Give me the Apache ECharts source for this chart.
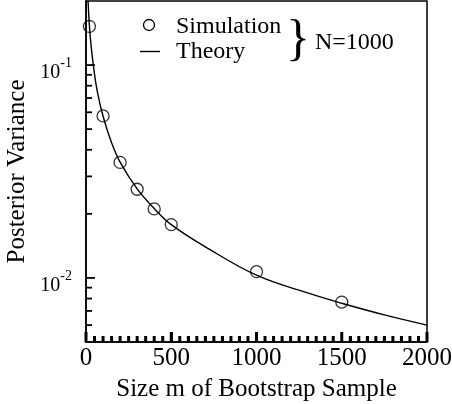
<!DOCTYPE html>
<html>
<head>
<meta charset="utf-8">
<script src="https://cdn.jsdelivr.net/npm/echarts@6/dist/echarts.min.js"></script>
<style>
html,body{margin:0;padding:0;background:#fff;}
#chart{width:452px;height:404px;}
</style>
</head>
<body>
<div id="chart"></div>
<script>
// Simulation points (N=1000)
const simM = [20, 100, 200, 300, 400, 500, 1000, 1500];
const simVar = [0.152, 0.0577, 0.0349, 0.0261, 0.0211, 0.0178, 0.0107, 0.0077];
// Theory curve
const theoryM = [12, 20, 30, 45, 65, 100, 150, 200, 300, 400, 500, 700, 1000, 1300, 1500, 1750, 2000];
const theoryVar = [0.200, 0.153, 0.123, 0.097, 0.076, 0.0575, 0.0432, 0.0350, 0.0262, 0.0212, 0.0178, 0.0140, 0.0103, 0.0085, 0.0076, 0.0067, 0.0060];
// Axis ticks
const xTickValues = [0, 500, 1000, 1500, 2000];
const xTickLabels = ['0', '500', '1000', '1500', '2000'];
const xMinorStep = 50;
const yMajorValues = [0.01, 0.1];
const yMajorExponents = ['-2', '-1'];
const yMinorTicks = [0.006, 0.007, 0.008, 0.009, 0.02, 0.03, 0.04, 0.05, 0.06, 0.07, 0.08, 0.09];
const legendNames = ['Simulation', 'Theory'];
const noteText = 'N=1000';

const xMinorTicks = [];
for (let v = xMinorStep; v < 2000; v += xMinorStep) {
  if (v % 500 !== 0) xMinorTicks.push(v);
}

const FONT = "'Liberation Serif','Times New Roman',serif";
const chart = echarts.init(document.getElementById('chart'), null, {renderer: 'canvas'});

function tickSeries(name, values, isX, len) {
  return {
    name: name, type: 'custom', silent: true, clip: false, z: 10,
    data: values.map(v => isX ? [v, 0.01] : [0, v]),
    renderItem: function (params, api) {
      const cs = params.coordSys;
      let shape;
      if (isX) {
        const p = api.coord([api.value(0), 0.01]);
        const yb = cs.y + cs.height;
        shape = {x1: p[0], y1: yb, x2: p[0], y2: yb - len};
      } else {
        const p = api.coord([0, api.value(1)]);
        shape = {x1: cs.x, y1: p[1], x2: cs.x + len, y2: p[1]};
      }
      return {type: 'line', shape: shape, style: {stroke: '#000', lineWidth: isX ? 3 : 1.8}};
    }
  };
}

const option = {
  animation: false,
  backgroundColor: '#fff',
  grid: {left: 86, right: 25, top: 1, bottom: 62, containLabel: false, outerBoundsMode: 'none',
    show: true, borderColor: '#000', borderWidth: 1.5, backgroundColor: 'transparent'},
  legend: {show: false, data: legendNames},
  xAxis: {
    type: 'value', min: 0, max: 2000, interval: 500,
    name: 'Size m of Bootstrap Sample', nameLocation: 'middle', nameGap: 35,
    nameTextStyle: {fontFamily: FONT, fontSize: 25, color: '#000'},
    axisLine: {show: true, lineStyle: {color: '#000', width: 1.5}},
    axisTick: {show: true, inside: true, length: 10, lineStyle: {color: '#000', width: 2}},
    minorTick: {show: true, splitNumber: 10, length: 6, lineStyle: {color: '#000', width: 2}},
    axisLabel: {margin: 4, fontFamily: FONT, fontSize: 25, color: '#000',
      formatter: function (v) {
        const i = xTickValues.indexOf(v);
        return i >= 0 ? xTickLabels[i] : '';
      }},
    splitLine: {show: false}
  },
  yAxis: {
    type: 'log', logBase: 10, min: 0.005, max: 0.2,
    name: 'Posterior Variance', nameLocation: 'middle', nameGap: 28,
    nameTextStyle: {fontFamily: FONT, fontSize: 25, color: '#000'},
    axisLine: {show: true, lineStyle: {color: '#000', width: 1.5}},
    axisTick: {show: false},
    axisLabel: {
      margin: 14, showMinLabel: false, showMaxLabel: false,
      padding: [9, 0, 0, 0],
      formatter: function (v) {
        for (let i = 0; i < yMajorValues.length; i++) {
          if (Math.abs(v - yMajorValues[i]) / yMajorValues[i] < 1e-6) {
            return '{b|10}{s|' + yMajorExponents[i] + '}';
          }
        }
        return '';
      },
      rich: {
        b: {fontFamily: FONT, fontSize: 20, lineHeight: 27, verticalAlign: 'bottom', color: '#000'},
        s: {fontFamily: FONT, fontSize: 14, lineHeight: 27, verticalAlign: 'top', color: '#000'}
      }
    },
    splitLine: {show: false}
  },
  graphic: [
    {type: 'circle', shape: {cx: 149, cy: 25, r: 5.5},
      style: {fill: 'none', stroke: '#000', lineWidth: 1.3}},
    {type: 'text', x: 176, y: 27,
      style: {text: legendNames[0], fill: '#000', font: '24px ' + FONT, textAlign: 'left', textVerticalAlign: 'middle', align: 'left', verticalAlign: 'middle'}},
    {type: 'line', shape: {x1: 140, y1: 51.5, x2: 160, y2: 51.5},
      style: {stroke: '#000', lineWidth: 1.4}},
    {type: 'text', x: 176, y: 52,
      style: {text: legendNames[1], fill: '#000', font: '24px ' + FONT, textAlign: 'left', textVerticalAlign: 'middle', align: 'left', verticalAlign: 'middle'}},
    {type: 'text', x: 298, y: 41,
      style: {text: '}', fill: '#000', font: '50px ' + FONT, textAlign: 'center', textVerticalAlign: 'middle', align: 'center', verticalAlign: 'middle'}},
    {type: 'text', x: 315, y: 43,
      style: {text: noteText, fill: '#000', font: '24px ' + FONT, textAlign: 'left', textVerticalAlign: 'middle', align: 'left', verticalAlign: 'middle'}}
  ],
  series: [
    {
      name: 'Simulation', type: 'scatter',
      data: simM.map((m, i) => [m, simVar[i]]),
      symbol: 'circle', symbolSize: 12,
      itemStyle: {color: 'rgba(0,0,0,0)', borderColor: '#000', borderWidth: 1.3},
      z: 3
    },
    {
      name: 'Theory', type: 'line',
      data: theoryM.map((m, i) => [m, theoryVar[i]]),
      symbol: 'none', smooth: 0.4,
      lineStyle: {color: '#000', width: 1.4},
      itemStyle: {color: '#000'},
      z: 2
    },
    tickSeries('xMajor', xTickValues, true, 10),
    tickSeries('xMinor', xMinorTicks, true, 6),
    tickSeries('yMajor', yMajorValues, false, 9),
    tickSeries('yMinor', yMinorTicks, false, 6)
  ]
};
chart.setOption(option);
</script>
</body>
</html>
